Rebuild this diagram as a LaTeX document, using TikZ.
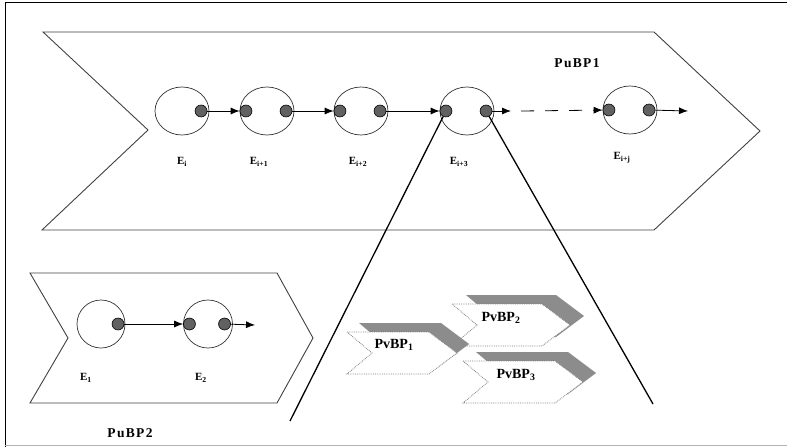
\documentclass[tikz,border=0pt]{standalone}
\usepackage{fontspec}
\setmainfont{Liberation Serif}
\usetikzlibrary{shapes.geometric,arrows.meta}
\tikzset{
  activity/.style={ellipse, draw=black!80, line width=0.7pt, minimum width=54pt, minimum height=48pt, inner sep=0pt},
  port/.style={circle, draw=black, fill=black!62, line width=0.6pt, minimum size=12pt, inner sep=0pt},
  flow/.style={-{Latex[length=9pt,width=7pt]}, line width=0.8pt},
  elabel/.style={font=\bfseries\fontsize{11}{12}\selectfont, inner sep=0pt},
  bplabel/.style={font=\bfseries\fontsize{13.5}{15}\selectfont\addfontfeature{LetterSpace=10}, inner sep=0pt},
  pvlabel/.style={font=\bfseries\fontsize{14}{15}\selectfont, inner sep=0pt},
  pubp/.style={draw=black!75, line width=0.9pt},
  pvbp/.style={draw=black!50, densely dotted, line width=0.8pt, fill=white},
  pvshadow/.style={fill=black!45},
}
\begin{document}
\begin{tikzpicture}[x=1pt, y=-1pt]
        \useasboundingbox (0,0) rectangle (787,447);
        \draw[line width=1pt] (5,447) -- (5,2) -- (787,2);
        \draw[gray!60, line width=0.8pt] (5,445) -- (787,445);

        % public process PuBP1
        \draw[pubp] (43,32) -- (654,32) -- (760,131) -- (654,230) -- (42,230) -- (148,130) -- cycle;
        \node[bplabel] (pubp1) at (577,63) {PuBP1};
        \node[activity] (e1) at (182,111) {};
        \node[activity] (e2) at (267,111) {};
        \node[activity] (e3) at (361,111) {};
        \node[activity] (e4) at (467,111) {};
        \node[activity] (e5) at (630,110) {};
        \node[port, anchor=east, xshift=-2pt] (e1r) at (e1.east) {};
        \node[port, anchor=west] (e2l) at (e2.west) {};
        \node[port, anchor=east, xshift=-2pt] (e2r) at (e2.east) {};
        \node[port, anchor=west] (e3l) at (e3.west) {};
        \node[port, anchor=east, xshift=-2pt] (e3r) at (e3.east) {};
        \node[port, anchor=west] (e4l) at (e4.west) {};
        \node[port, anchor=east, xshift=-2pt] (e4r) at (e4.east) {};
        \node[port, anchor=west] (e5l) at (e5.west) {};
        \node[port, anchor=east, xshift=-2pt] (e5r) at (e5.east) {};
        \node[elabel] (le1) at (182,162) {E\textsubscript{i}};
        \node[elabel] (le2) at (259,162) {E\textsubscript{i+1}};
        \node[elabel] (le3) at (358,162) {E\textsubscript{i+2}};
        \node[elabel] (le4) at (459,162) {E\textsubscript{i+3}};
        \node[elabel] (le5) at (622,158) {E\textsubscript{i+j}};

        \coordinate (gap1) at (511,111);
        \coordinate (gap2) at (521,111);
        \coordinate (out1) at (688,111);
        \draw[flow] (e1r) -- (e2l);
        \draw[flow] (e2r) -- (e3l);
        \draw[flow] (e3r) -- (e4l);
        \draw[flow] (e4r) -- (gap1);
        \draw[flow, dash pattern=on 13pt off 11pt] (gap2) -- (e5l);
        \draw[flow] (e5r) -- (out1);

        % public process PuBP2
        \draw[pubp] (30,273) -- (277,273) -- (313,338) -- (277,403) -- (30,403) -- (68,338) -- cycle;
        \node[bplabel] (pubp2) at (130,433) {PuBP2};
        \node[activity, minimum width=48pt] (f1) at (101,324) {};
        \node[activity, minimum width=49pt] (f2) at (208,324) {};
        \node[port, anchor=east, xshift=-1pt] (f1r) at (f1.east) {};
        \node[port, anchor=west] (f2l) at (f2.west) {};
        \node[port, anchor=east, xshift=-2pt] (f2r) at (f2.east) {};
        \node[elabel] (lf1) at (86,378) {E\textsubscript{1}};
        \node[elabel] (lf2) at (201,378) {E\textsubscript{2}};
        \coordinate (out2) at (255,325);
        \draw[flow] (f1r) -- (f2l);
        \draw[flow] (f2r) -- (out2);

        % zoom into E_{i+3}
        \coordinate (zoomL) at (290,421);
        \coordinate (zoomR) at (653,404);
        \draw[line width=1.3pt] (e4l) -- (zoomL);
        \draw[line width=1.3pt] (e4r) -- (zoomR);

        % private processes
        \fill[pvshadow, shift={(466,295)}] (0,0) -- (90,0) -- (118,21) -- (90,42) -- (0,42) -- (25,21) -- cycle;
        \draw[pvbp, shift={(452,304)}] (0,0) -- (90,0) -- (118,21) -- (90,42) -- (0,42) -- (25,21) -- cycle;
        \node[pvlabel] (pv2) at (501,318) {PvBP\textsubscript{2}};
        \fill[pvshadow, shift={(359,323)}] (0,0) -- (82,0) -- (110,21) -- (82,42) -- (0,42) -- (25,21) -- cycle;
        \draw[pvbp, shift={(347,332)}] (0,0) -- (82,0) -- (110,21) -- (82,42) -- (0,42) -- (25,21) -- cycle;
        \node[pvlabel] (pv1) at (394,345) {PvBP\textsubscript{1}};
        \fill[pvshadow, shift={(476,352)}] (0,0) -- (92,0) -- (120,21) -- (92,42) -- (0,42) -- (25,21) -- cycle;
        \draw[pvbp, shift={(463,361)}] (0,0) -- (92,0) -- (120,21) -- (92,42) -- (0,42) -- (25,21) -- cycle;
        \node[pvlabel] (pv3) at (516,375) {PvBP\textsubscript{3}};
    \end{tikzpicture}
\end{document}
